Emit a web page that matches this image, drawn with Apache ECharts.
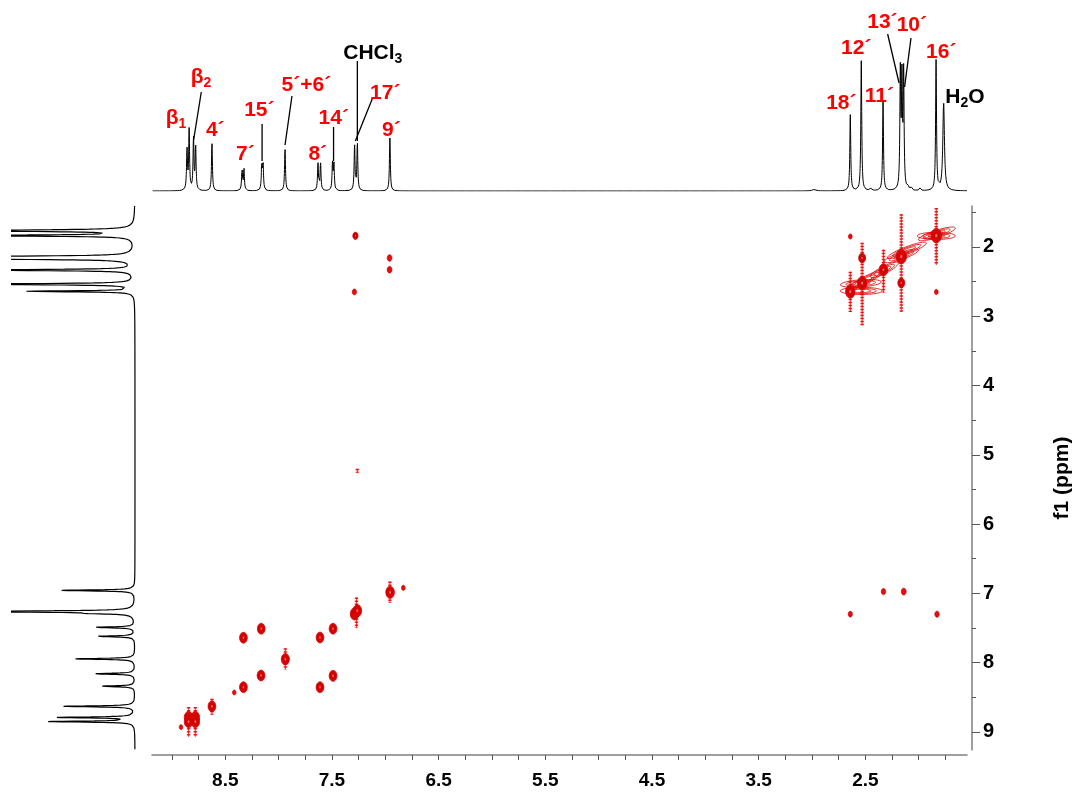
<!DOCTYPE html>
<html lang="en">
<head>
  <meta charset="UTF-8">
  <title>COSY</title>
  <script src="https://cdn.jsdelivr.net/npm/echarts@6.0.0/dist/echarts.min.js"></script>
  <style>
    html, body { margin: 0; padding: 0; background: #fff; }
    #main { width: 1086px; height: 794px; }
  </style>
</head>
<body>
<div id="main"></div>
<script>
  // axis ranges in ppm
  var f2Range = [1.547, 9.187];
  var f1Range = [1.41, 9.26];
  var f2Ticks = [1.75, 2, 2.25, 2.5, 2.75, 3, 3.25, 3.5, 3.75, 4, 4.25, 4.5, 4.75, 5, 5.25, 5.5,
    5.75, 6, 6.25, 6.5, 6.75, 7, 7.25, 7.5, 7.75, 8, 8.25, 8.5, 8.75, 9];
  var f2Labels = [2.5, 3.5, 4.5, 5.5, 6.5, 7.5, 8.5];
  var f1Labels = [2, 3, 4, 5, 6, 7, 8, 9];
  var f1MinorTicks = [1.5, 2.5, 3.5, 4.5, 5.5, 6.5, 7.5, 8.5];

  // f2 projection (top): [ppm, height, half width]
  var topPeaks = [
    [8.859, 41, 0.005], [8.839, 60, 0.005], [8.798, 53, 0.005], [8.778, 44, 0.005],
    [8.625, 49, 0.005], [8.343, 22, 0.005], [8.325, 22, 0.005], [8.158, 26, 0.005],
    [8.146, 26, 0.005], [7.940, 43, 0.005], [7.631, 28, 0.005], [7.607, 28, 0.005],
    [7.495, 27, 0.005], [7.482, 27, 0.005], [7.288, 46, 0.005], [7.262, 48, 0.005],
    [6.957, 53, 0.005], [2.641, 76, 0.005], [2.538, 130, 0.005], [2.334, 89, 0.005],
    [2.172, 115, 0.005], [2.157, 105, 0.005], [2.141, 115, 0.005], [1.837, 130, 0.005],
    [1.766, 88, 0.009], [2.98, 1.5, 0.02], [2.45, 2, 0.01], [2.10, 4, 0.006],
    [2.07, 3, 0.006], [1.99, 3, 0.006]
  ];
  // f1 projection (left): [ppm, height, half width]
  var sidePeaks = [
    [1.766, 190, 0.012], [1.837, 200, 0.009], [2.172, 170, 0.009], [2.157, 170, 0.009],
    [2.141, 170, 0.009], [2.334, 190, 0.009], [2.538, 200, 0.009], [2.641, 108, 0.009],
    [6.957, 74, 0.009], [7.262, 220, 0.009], [7.290, 30, 0.009], [7.490, 40, 0.009],
    [7.620, 38, 0.009], [7.945, 60, 0.009], [8.160, 41, 0.009], [8.340, 34, 0.009],
    [8.630, 71, 0.009], [8.790, 76, 0.009], [8.850, 85, 0.009]
  ];

  // cross peaks: [f2, f1, level]
  var crossPeaks = [
    [8.844, 8.79, 3.5], [8.844, 8.85, 3.5], [8.781, 8.79, 3.5], [8.781, 8.85, 3.5],
    [8.915, 8.93, 0.5], [8.625, 8.63, 3], [8.416, 8.43, 0.5], [8.33, 8.354, 3],
    [8.165, 8.185, 3], [7.937, 7.95, 3.2], [7.49, 7.51, 3], [7.612, 7.637, 3],
    [7.288, 7.296, 3.5], [7.262, 7.25, 3.5], [6.955, 6.985, 3.5], [6.831, 6.92, 0.6],
    [8.33, 7.64, 3], [8.163, 7.51, 3], [7.612, 8.354, 3], [7.49, 8.19, 3],
    [7.28, 1.84, 1.5], [6.96, 2.16, 1.2], [6.96, 2.33, 1.2], [7.29, 2.65, 0.9],
    [2.641, 7.30, 0.9], [2.33, 6.974, 1], [2.14, 6.974, 1.3], [1.828, 7.30, 1],
    [2.641, 2.645, 4], [2.53, 2.524, 4], [2.33, 2.33, 3.5], [2.163, 2.14, 4.5],
    [1.835, 1.837, 4.5], [2.53, 2.16, 2.5], [2.163, 2.52, 2.5],
    [2.641, 1.85, 0.6], [1.835, 2.65, 0.6]
  ];
  // t1 noise streaks: [f2, f1 from, f1 to]
  var streaks = [
    [1.835, 1.44, 2.26], [2.163, 1.53, 2.94], [2.33, 2.04, 2.66], [2.53, 1.94, 3.13],
    [2.641, 2.36, 2.94], [7.27, 7.06, 7.5], [6.957, 6.83, 7.14], [8.844, 8.64, 9.07],
    [8.781, 8.64, 9.07], [8.625, 8.52, 8.75], [7.937, 7.79, 8.1], [7.262, 5.2, 5.26]
  ];
  // elongated contour ridges: [f2 a, f1 a, f2 b, f1 b]
  var ridges = [
    [2.013, 1.841, 1.657, 1.841], [2.003, 1.899, 1.657, 1.726],
    [2.294, 2.159, 1.928, 1.942], [2.322, 2.216, 2.003, 2.043],
    [2.453, 2.433, 2.191, 2.231], [2.735, 2.635, 2.341, 2.635],
    [2.735, 2.548, 2.350, 2.505], [2.660, 2.606, 2.313, 2.332]
  ];

  // assignments over the f2 trace: [text, ppm, height, colour]
  var peakLabels = [
    ['β{s|1}', 8.961, 73, 'r'], ['β{s|2}', 8.727, 114, 'r'], ['4´', 8.594, 61, 'r'],
    ['7´', 8.3125, 37, 'r'], ['15´', 8.181, 81, 'r'], ['5´+6´', 7.74, 106, 'r'],
    ['8´', 7.633, 37, 'r'], ['14´', 7.483, 73, 'r'], ['CHCl{s|3}', 7.117, 138, 'k'],
    ['17´', 7.0, 98, 'r'], ['9´', 6.943, 61, 'r'], ['18´', 2.725, 88, 'r'],
    ['12´', 2.585, 143, 'r'], ['11´', 2.369, 95, 'r'], ['13´', 2.34, 169, 'r'],
    ['10´', 2.064, 166, 'r'], ['16´', 1.788, 139, 'r'], ['H{s|2}O', 1.567, 94, 'k']
  ];
  // leader lines: [ppm 1, height 1, ppm 2, height 2]
  var leaders = [
    [8.725, 99, 8.797, 51], [8.155, 67, 8.155, 30], [7.875, 95, 7.94, 46],
    [7.485, 64, 7.485, 30], [7.262, 130, 7.262, 50], [7.119, 93, 7.281, 50],
    [2.291, 157, 2.184, 108], [2.072, 153, 2.132, 104]
  ];

  var FONT = '"Liberation Sans", Arial, sans-serif';
  var RED = '#ff0000';

  function lorentz(v, peaks) {
    var s = 0;
    for (var i = 0; i < peaks.length; i++) {
      var d = v - peaks[i][0], g = peaks[i][2];
      s += peaks[i][1] * g * g / (d * d + g * g);
    }
    return s;
  }

  var topLine = [];
  var nTop = Math.round((f2Range[1] - f2Range[0]) / 0.001);
  for (var i = 0; i <= nTop; i++) {
    var v = f2Range[0] + i * 0.001;
    topLine.push([v, lorentz(v, topPeaks)]);
  }
  var sideLine = [];
  var nSide = Math.round((f1Range[1] - f1Range[0]) / 0.002);
  for (var j = 0; j <= nSide; j++) {
    var w = f1Range[0] + j * 0.002;
    sideLine.push([lorentz(w, sidePeaks), w]);
  }

  function ellipse(cx, cy, a, b, ang) {
    var pts = [];
    var ca = Math.cos(ang), sa = Math.sin(ang);
    for (var k = 0; k < 32; k++) {
      var t = k / 32 * Math.PI * 2;
      var x = a * Math.cos(t), y = b * Math.sin(t);
      pts.push([cx + x * ca - y * sa, cy + x * sa + y * ca]);
    }
    return pts;
  }

  function renderPeak(params, api) {
    var c = api.coord([api.value(0), api.value(1)]);
    var lv = api.value(2);
    var rx = 1.3 + 0.85 * lv, ry = rx * 1.4;
    var kids = [{
      type: 'polygon', shape: { points: ellipse(c[0], c[1], rx, ry, 0) },
      style: { fill: '#ec0a0a', stroke: '#c80000', lineWidth: 0.8 }
    }];
    if (lv >= 1.5) {
      [0.72, 0.45].forEach(function (s) {
        kids.push({
          type: 'polygon', shape: { points: ellipse(c[0], c[1], rx * s, ry * s, 0) },
          style: { fill: null, stroke: '#b00000', lineWidth: 0.8 }
        });
      });
      kids.push({
        type: 'polygon', shape: { points: ellipse(c[0], c[1], rx * 0.2, ry * 0.2, 0) },
        style: { fill: '#ff7070' }
      });
    }
    return { type: 'group', children: kids };
  }

  function renderStreak(params, api) {
    var a = api.coord([api.value(0), api.value(1)]);
    var b = api.coord([api.value(0), api.value(2)]);
    return {
      type: 'group', children: [{
        type: 'line', shape: { x1: a[0], y1: a[1], x2: b[0], y2: b[1] },
        style: { stroke: 'rgba(240,0,0,0.85)', lineWidth: 3.5, lineDash: [1.5, 1.5] }
      }, {
        type: 'line', shape: { x1: a[0], y1: a[1], x2: b[0], y2: b[1] },
        style: { stroke: 'rgba(225,0,0,0.7)', lineWidth: 1.2 }
      }]
    };
  }

  function renderRidge(params, api) {
    var a = api.coord([api.value(0), api.value(1)]);
    var b = api.coord([api.value(2), api.value(3)]);
    var cx = (a[0] + b[0]) / 2, cy = (a[1] + b[1]) / 2;
    var half = Math.sqrt(Math.pow(b[0] - a[0], 2) + Math.pow(b[1] - a[1], 2)) / 2;
    var ang = Math.atan2(b[1] - a[1], b[0] - a[0]);
    var kids = [1, 0.72, 0.45].map(function (s) {
      return {
        type: 'polygon', shape: { points: ellipse(cx, cy, half * s, 3.6 * s, ang) },
        style: { fill: null, stroke: 'rgba(225,0,0,0.9)', lineWidth: 0.9 }
      };
    });
    return { type: 'group', children: kids };
  }

  function renderLeader(params, api) {
    var a = api.coord([api.value(0), api.value(1)]);
    var b = api.coord([api.value(2), api.value(3)]);
    return {
      type: 'line', shape: { x1: a[0], y1: a[1], x2: b[0], y2: b[1] },
      style: { stroke: '#000', lineWidth: 1.3 }
    };
  }

  // labels drawn as plain text elements so nothing fades them
  function renderLabel(params, api) {
    var d = peakLabels[params.dataIndex];
    var p = api.coord([d[1], d[2]]);
    return {
      type: 'text', x: p[0], y: p[1],
      style: {
        text: d[0], fill: d[3] === 'k' ? '#000' : RED, align: 'center', verticalAlign: 'middle',
        fontFamily: FONT, fontWeight: 'bold', fontSize: 21,
        rich: {
          s: {
            fill: d[3] === 'k' ? '#000' : RED, fontFamily: FONT, fontWeight: 'bold', fontSize: 14,
            verticalAlign: 'bottom', padding: [12, 0, 0, 0]
          }
        }
      }
    };
  }

  var axisText = { color: '#000', fontFamily: FONT, fontWeight: 'bold' };

  var option = {
    animation: false,
    backgroundColor: '#fff',
    grid: [
      { left: 152, width: 815, top: 206, height: 544 },
      { left: 152, width: 815, top: 11, height: 180 },
      { left: 12, width: 123, top: 206, height: 544 }
    ],
    xAxis: [
      {
        gridIndex: 0, type: 'value', min: f2Range[0], max: f2Range[1], inverse: true,
        position: 'bottom', offset: 5, splitLine: { show: false },
        axisLine: { lineStyle: { color: '#808080', width: 1.5 } },
        axisTick: { customValues: f2Ticks, length: 5, lineStyle: { color: '#555' } },
        axisLabel: Object.assign({
          customValues: f2Labels, fontSize: 19, margin: 16,
          formatter: function (v) { return v.toFixed(1); }
        }, axisText)
      },
      { gridIndex: 1, type: 'value', min: f2Range[0], max: f2Range[1], inverse: true, show: false },
      { gridIndex: 2, type: 'value', min: 0, max: 123, inverse: true, show: false }
    ],
    yAxis: [
      {
        gridIndex: 0, type: 'value', min: f1Range[0], max: f1Range[1], inverse: true,
        position: 'right', offset: 5, splitLine: { show: false },
        axisLine: { lineStyle: { color: '#808080', width: 1.5 } },
        axisTick: { customValues: f1Labels, length: 8, lineStyle: { color: '#555' } },
        axisLabel: Object.assign({
          customValues: f1Labels, fontSize: 20, margin: 11,
          formatter: function (v) { return String(v); }
        }, axisText),
        name: 'f1 (ppm)', nameLocation: 'middle', nameRotate: 90, nameGap: 80,
        nameTextStyle: { color: '#000', fontFamily: FONT, fontWeight: 'bold', fontSize: 21 }
      },
      {
        gridIndex: 0, type: 'value', min: f1Range[0], max: f1Range[1], inverse: true,
        position: 'right', offset: 5, splitLine: { show: false },
        axisLine: { show: false },
        axisTick: { customValues: f1MinorTicks, length: 4, lineStyle: { color: '#555' } },
        axisLabel: { show: false }
      },
      { gridIndex: 1, type: 'value', min: 0, max: 180, show: false },
      { gridIndex: 2, type: 'value', min: f1Range[0], max: f1Range[1], inverse: true, show: false }
    ],
    series: [
      {
        type: 'line', xAxisIndex: 1, yAxisIndex: 2, data: topLine, showSymbol: false,
        symbol: 'none', sampling: false, silent: true,
        lineStyle: { color: '#000', width: 1 }
      },
      {
        type: 'line', xAxisIndex: 2, yAxisIndex: 3, data: sideLine, showSymbol: false,
        symbol: 'none', silent: true, clip: true,
        lineStyle: { color: '#000', width: 1.2 }
      },
      {
        type: 'custom', xAxisIndex: 1, yAxisIndex: 2, data: leaders, clip: false, silent: true,
        encode: { x: [0, 2], y: [1, 3] }, renderItem: renderLeader
      },
      {
        type: 'custom', xAxisIndex: 1, yAxisIndex: 2, clip: false, silent: true,
        data: peakLabels.map(function (d) { return [d[1], d[2]]; }),
        encode: { x: 0, y: 1 }, renderItem: renderLabel
      },
      {
        type: 'custom', xAxisIndex: 0, yAxisIndex: 0, data: streaks, silent: true,
        encode: { x: 0, y: [1, 2] }, renderItem: renderStreak
      },
      {
        type: 'custom', xAxisIndex: 0, yAxisIndex: 0, data: ridges, silent: true,
        encode: { x: [0, 2], y: [1, 3] }, renderItem: renderRidge
      },
      {
        type: 'custom', xAxisIndex: 0, yAxisIndex: 0, data: crossPeaks, silent: true,
        encode: { x: 0, y: 1 }, renderItem: renderPeak
      }
    ]
  };

  var chart = echarts.init(document.getElementById('main'));
  chart.setOption(option);
</script>
</body>
</html>
